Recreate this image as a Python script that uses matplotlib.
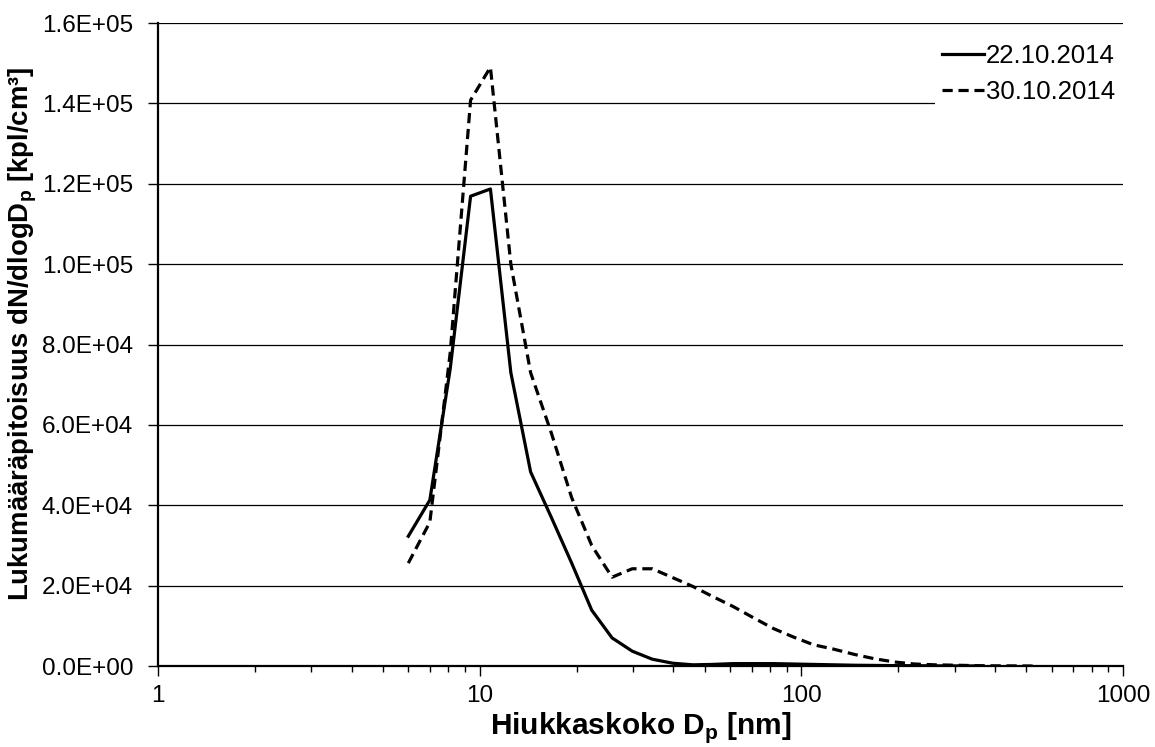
import numpy as np
import matplotlib
matplotlib.use("Agg")
import matplotlib.pyplot as plt
from matplotlib.ticker import FuncFormatter, LogLocator, NullFormatter

plt.rcParams['font.family'] = ['Liberation Sans', 'DejaVu Sans']
plt.rcParams['mathtext.fontset'] = 'custom'
plt.rcParams['mathtext.rm'] = 'Liberation Sans'
plt.rcParams['mathtext.bf'] = 'Liberation Sans:bold'

# particle size bins [nm]
dp_22 = [6.0, 7.0, 8.1, 9.37, 10.8, 12.5, 14.4, 16.7, 19.3, 22.3, 25.8, 29.8,
         34.4, 39.8, 46.0, 53.0, 61.4, 71.0, 82.0, 94.6, 109, 126, 146, 169,
         195, 225, 260, 301, 348]
dp_30 = [6.0, 7.0, 8.1, 9.37, 10.8, 12.5, 14.4, 16.7, 19.3, 22.3, 25.8, 29.8,
         34.4, 39.8, 46.0, 53.0, 61.4, 71.0, 82.0, 94.6, 109, 126, 146, 169,
         195, 225, 260, 301, 348, 402, 465, 537]

# dN/dlogDp [kpl/cm3]
n_22 = [32300, 41300, 74000, 116900, 118700, 73000, 48300, 37000, 25700,
        13900, 7000, 3700, 1700, 700, 300, 400, 600, 600, 600, 500, 400,
        300, 200, 150, 100, 80, 50, 30, 20]
n_30 = [25600, 35800, 78000, 140800, 149000, 100000, 73000, 58000, 42000,
        30000, 22100, 24200, 24200, 22000, 19800, 17300, 14800, 12000, 9300,
        7200, 5300, 4200, 2900, 1800, 1000, 500, 300, 200, 100, 50, 30, 10]

labels = ['22.10.2014', '30.10.2014']

fig = plt.figure(figsize=(11.55, 7.47), dpi=100)
ax = fig.add_axes([0.1368, 0.1084, 0.9723 - 0.1368, 0.9692 - 0.1084])

ax.plot(dp_22, n_22, color='black', lw=2.3, label=labels[0], zorder=3)
ax.plot(dp_30, n_30, color='black', lw=2.3, linestyle=(0, (3.2, 1.8)),
        label=labels[1], zorder=3)

ax.set_xscale('log')
ax.set_xlim(1, 1000)
ax.set_ylim(0, 1.6e5)
ax.set_yticks(np.arange(0, 1.61e5, 2e4))
ax.yaxis.set_major_formatter(FuncFormatter(lambda v, p: f"{v:.1E}"))
ax.xaxis.set_major_formatter(FuncFormatter(lambda v, p: f"{v:g}"))
ax.xaxis.set_minor_locator(LogLocator(base=10, subs=np.arange(2, 10)))
ax.xaxis.set_minor_formatter(NullFormatter())

ax.grid(axis='y', color='black', lw=0.9)
ax.set_axisbelow(True)
for s in ['top', 'right']:
    ax.spines[s].set_visible(False)
ax.spines['left'].set_linewidth(1.6)
ax.spines['bottom'].set_linewidth(1.6)

ax.tick_params(axis='both', which='major', direction='out', length=7, width=1,
               labelsize=17.5)
ax.tick_params(axis='x', which='major', pad=7)
ax.tick_params(axis='y', which='major', pad=11)
ax.tick_params(axis='x', which='minor', direction='out', length=4, width=1)

ax.set_xlabel(r'Hiukkaskoko D$_\mathbf{p}$ [nm]', fontsize=21.5,
              fontweight='bold', labelpad=2)
ax.set_ylabel(r'Lukumääräpitoisuus dN/dlogD$_\mathbf{p}$ [kpl/cm³]',
              fontsize=19.8, fontweight='bold')
ax.yaxis.set_label_coords(-0.123, 0.516)

leg = ax.legend(loc='upper right', bbox_to_anchor=(1.0, 0.98), fontsize=18.5,
                frameon=True, facecolor='white', edgecolor='none', framealpha=1,
                fancybox=False, handlelength=1.63, handletextpad=0.08,
                labelspacing=0.5, borderaxespad=0.0, borderpad=0.3)
leg.set_zorder(5)

fig.savefig('out.png', dpi=100)
